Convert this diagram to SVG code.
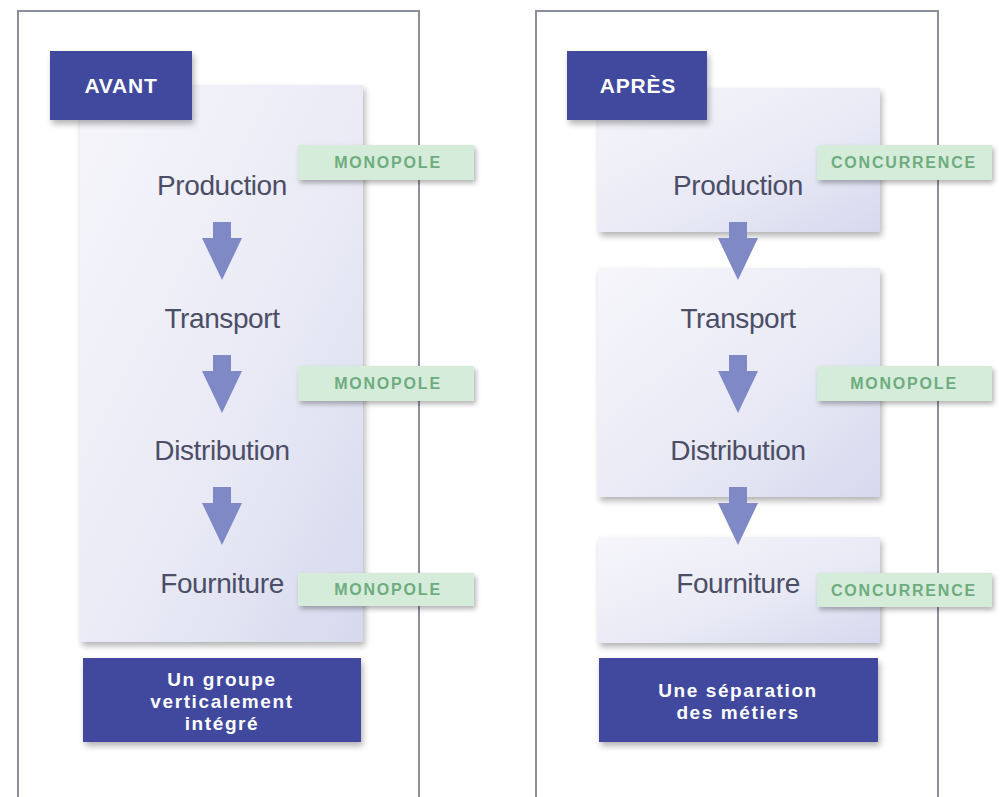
<svg xmlns="http://www.w3.org/2000/svg" width="1000" height="797" viewBox="0 0 1000 797">
<defs>
<linearGradient id="pg" x1="0" y1="0" x2="1" y2="1">
<stop offset="0" stop-color="#f6f6fb"/>
<stop offset="0.6" stop-color="#e8e9f5"/>
<stop offset="1" stop-color="#d6d9ee"/>
</linearGradient>
<filter id="sh" x="-10%" y="-10%" width="125%" height="130%">
<feGaussianBlur in="SourceAlpha" stdDeviation="3"/>
<feOffset dx="2" dy="4" result="b"/>
<feComponentTransfer><feFuncA type="linear" slope="0.3"/></feComponentTransfer>
<feMerge><feMergeNode/><feMergeNode in="SourceGraphic"/></feMerge>
</filter>
<filter id="sht" x="-10%" y="-20%" width="125%" height="160%">
<feGaussianBlur in="SourceAlpha" stdDeviation="2.5"/>
<feOffset dx="2" dy="3" result="b"/>
<feComponentTransfer><feFuncA type="linear" slope="0.3"/></feComponentTransfer>
<feMerge><feMergeNode/><feMergeNode in="SourceGraphic"/></feMerge>
</filter>
</defs>
<style>
.frame{fill:#ffffff;stroke:#8c8f9c;stroke-width:2}
.dark{fill:#3f4a9e}
.panel{fill:url(#pg)}
.tag{fill:#d6ecda}
.tagt{font-family:"Liberation Sans",Arial,sans-serif;font-weight:bold;font-size:16px;letter-spacing:1.8px;fill:#6eac80;text-anchor:middle}
.lbl{font-family:"Liberation Sans",Arial,sans-serif;font-size:28px;letter-spacing:-0.4px;fill:#4b4e66;text-anchor:middle}
.head{font-family:"Liberation Sans",Arial,sans-serif;font-weight:bold;font-size:21px;letter-spacing:0.8px;fill:#ffffff;text-anchor:middle}
.cap{font-family:"Liberation Sans",Arial,sans-serif;font-weight:bold;font-size:19px;letter-spacing:1.6px;fill:#ffffff;text-anchor:middle}
.arr{fill:#7f89c5}
</style>
<rect width="1000" height="797" fill="#ffffff"/>
<rect class="frame" x="18" y="11" width="401" height="800"/>
<rect class="frame" x="536" y="11" width="402" height="800"/>

<g id="left">
<g id="l-panel"><rect class="panel" x="80" y="85" width="283" height="557" filter="url(#sh)"/></g>
<g id="avant"><rect class="dark" x="50" y="51" width="142" height="69" filter="url(#sh)"/><text class="head" x="121" y="93">AVANT</text></g>
<g id="l-production"><text class="lbl" x="222" y="195">Production</text></g>
<g id="l-transport"><text class="lbl" x="222" y="328">Transport</text></g>
<g id="l-distribution"><text class="lbl" x="222" y="460">Distribution</text></g>
<g id="l-fourniture"><text class="lbl" x="222" y="593">Fourniture</text></g>
<g id="l-tag1"><rect class="tag" x="298" y="145" width="176" height="35" filter="url(#sht)"/><text class="tagt" x="388" y="168">MONOPOLE</text></g>
<g id="l-tag2"><rect class="tag" x="298" y="366" width="176" height="35" filter="url(#sht)"/><text class="tagt" x="388" y="389">MONOPOLE</text></g>
<g id="l-tag3"><rect class="tag" x="298" y="573" width="176" height="33" filter="url(#sht)"/><text class="tagt" x="388" y="595">MONOPOLE</text></g>
<g id="l-caption"><rect class="dark" x="83" y="658" width="278" height="84" filter="url(#sh)"/>
<text class="cap" x="222" y="686">Un groupe</text><text class="cap" x="222" y="708">verticalement</text><text class="cap" x="222" y="730">intégré</text></g>
</g>

<g id="right">
<g id="r-panel1"><rect class="panel" x="598" y="88" width="282" height="144" filter="url(#sh)"/><text class="lbl" x="738" y="195">Production</text></g>
<g id="apres"><rect class="dark" x="567" y="51" width="140" height="69" filter="url(#sh)"/><text class="head" x="638" y="93">APRÈS</text></g>
<g id="r-panel2"><rect class="panel" x="598" y="268" width="282" height="229" filter="url(#sh)"/><text class="lbl" x="738" y="328">Transport</text><text class="lbl" x="738" y="460">Distribution</text></g>
<g id="r-panel3"><rect class="panel" x="598" y="537" width="282" height="106" filter="url(#sh)"/><text class="lbl" x="738" y="593">Fourniture</text></g>
<g id="r-tag1"><rect class="tag" x="817" y="145" width="175" height="35" filter="url(#sht)"/><text class="tagt" x="904" y="168">CONCURRENCE</text></g>
<g id="r-tag2"><rect class="tag" x="817" y="366" width="175" height="35" filter="url(#sht)"/><text class="tagt" x="904" y="389">MONOPOLE</text></g>
<g id="r-tag3"><rect class="tag" x="817" y="573" width="175" height="34" filter="url(#sht)"/><text class="tagt" x="904" y="596">CONCURRENCE</text></g>
<g id="r-caption"><rect class="dark" x="599" y="658" width="279" height="84" filter="url(#sh)"/>
<text class="cap" x="738" y="697">Une séparation</text><text class="cap" x="738" y="719">des métiers</text></g>
</g>

<g id="connectors">
<path class="arr" d="M213,222 H231 V238 H242 L222,280 L202,238 H213 Z"/>
<path class="arr" d="M213,355 H231 V371 H242 L222,413 L202,371 H213 Z"/>
<path class="arr" d="M213,487 H231 V503 H242 L222,545 L202,503 H213 Z"/>
<path class="arr" d="M729,222 H747 V238 H758 L738,280 L718,238 H729 Z"/>
<path class="arr" d="M729,355 H747 V371 H758 L738,413 L718,371 H729 Z"/>
<path class="arr" d="M729,487 H747 V503 H758 L738,545 L718,503 H729 Z"/>
</g>
</svg>
